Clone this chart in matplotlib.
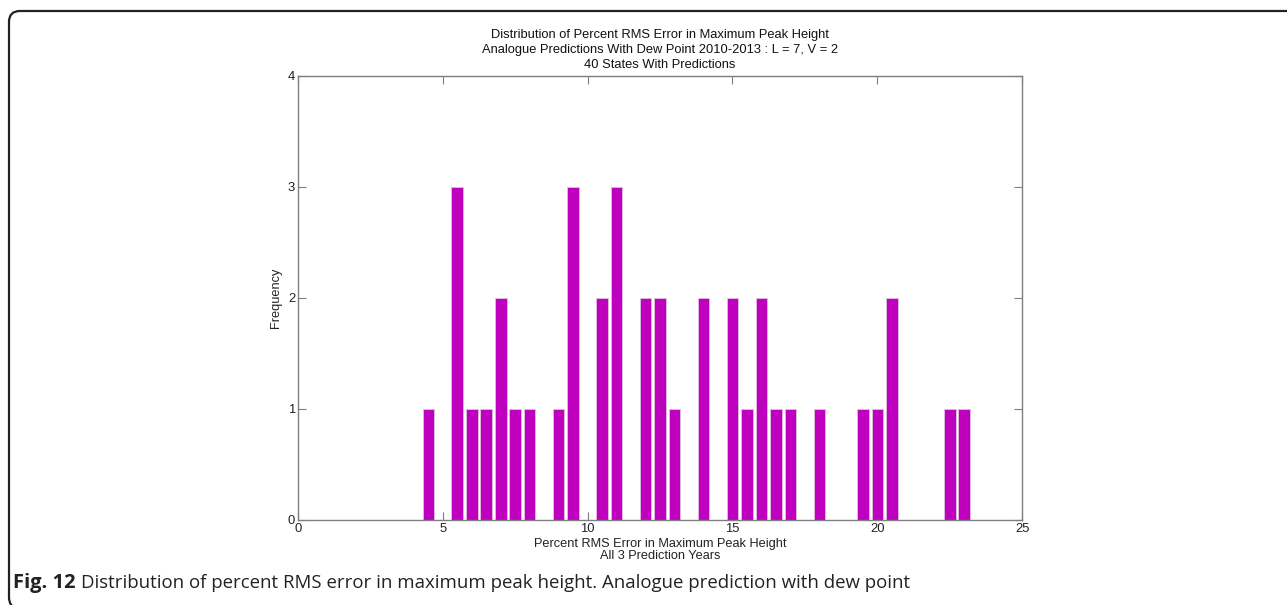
import matplotlib.pyplot as plt
from matplotlib.path import Path
import matplotlib.patches as mpatches

# data
# ----------
bin_centers = [4.5, 5.5, 6.0, 6.5, 7.0, 7.5, 8.0, 9.0, 9.5, 10.5, 11.0,
               12.0, 12.5, 13.0, 14.0, 15.0, 15.5, 16.0, 16.5, 17.0, 18.0,
               19.5, 20.0, 20.5, 22.5, 23.0]
counts = [1, 3, 1, 1, 2, 1, 1, 1, 3, 2, 3,
          2, 2, 1, 2, 2, 1, 2, 1, 1, 1,
          1, 1, 2, 1, 1]
x_ticks = [0, 5, 10, 15, 20, 25]
y_ticks = [0, 1, 2, 3, 4]

title = ("Distribution of Percent RMS Error in Maximum Peak Height\n"
         "Analogue Predictions With Dew Point 2010-2013 : L = 7, V = 2\n"
         "40 States With Predictions")
xlabel = "Percent RMS Error in Maximum Peak Height\nAll 3 Prediction Years"
ylabel = "Frequency"

# plot settings
# ----------
plt.rcParams["font.family"] = ["Liberation Sans", "DejaVu Sans"]
axis_color = "#7f7f7f"

fig = plt.figure(figsize=(12.87, 6.05), dpi=100)
ax = fig.add_axes([0.2315, 0.1405, 0.5627, 0.7339])

ax.bar(bin_centers, counts, width=0.4, color="#bf00bf",
       edgecolor="#dcc0dc", linewidth=0.6, zorder=2)

ax.set_xlim(0, 25)
ax.set_ylim(0, 4)
ax.set_xticks(x_ticks)
ax.set_yticks(y_ticks)
ax.tick_params(direction="in", length=6, width=0.8, color=axis_color,
               labelsize=9.4, labelcolor="#222222", pad=2,
               top=True, right=True)
for spine in ax.spines.values():
    spine.set_color(axis_color)
    spine.set_linewidth(1.0)

ax.set_title(title, fontsize=9.3, color="#111111", linespacing=1.33, pad=6)
ax.set_xlabel(xlabel, fontsize=9.2, color="#222222", linespacing=1.1, labelpad=2)
ax.set_ylabel(ylabel, fontsize=9.2, color="#222222", labelpad=4)

# outer frame (top and left edge with rounded corners)
r = 0.018
x0, y0 = 9 / 1287, 1 - 11 / 605
frame = Path([(1.0, y0), (x0 + r * 0.47, y0), (x0, y0), (x0, y0 - r),
              (x0, 0.012), (x0, 0.0), (x0 + 0.006, -0.01)],
             [Path.MOVETO, Path.LINETO, Path.CURVE3, Path.CURVE3,
              Path.LINETO, Path.CURVE3, Path.CURVE3])
fig.patches.append(mpatches.PathPatch(frame, transform=fig.transFigure,
                                      fill=False, edgecolor="#222222", lw=1.6))

# caption
cap_y = 1 - 583 / 605
fig.text(13 / 1287, cap_y, "Fig. 12", fontsize=14.5, fontweight="bold",
         family=["Open Sans", "DejaVu Sans"], va="center", ha="left",
         color="#222222")
fig.text(81 / 1287, cap_y,
         "Distribution of percent RMS error in maximum peak height. "
         "Analogue prediction with dew point",
         fontsize=13.4, family=["Open Sans", "DejaVu Sans"], va="center",
         ha="left", color="#222222")

fig.savefig("out.png", dpi=100)
